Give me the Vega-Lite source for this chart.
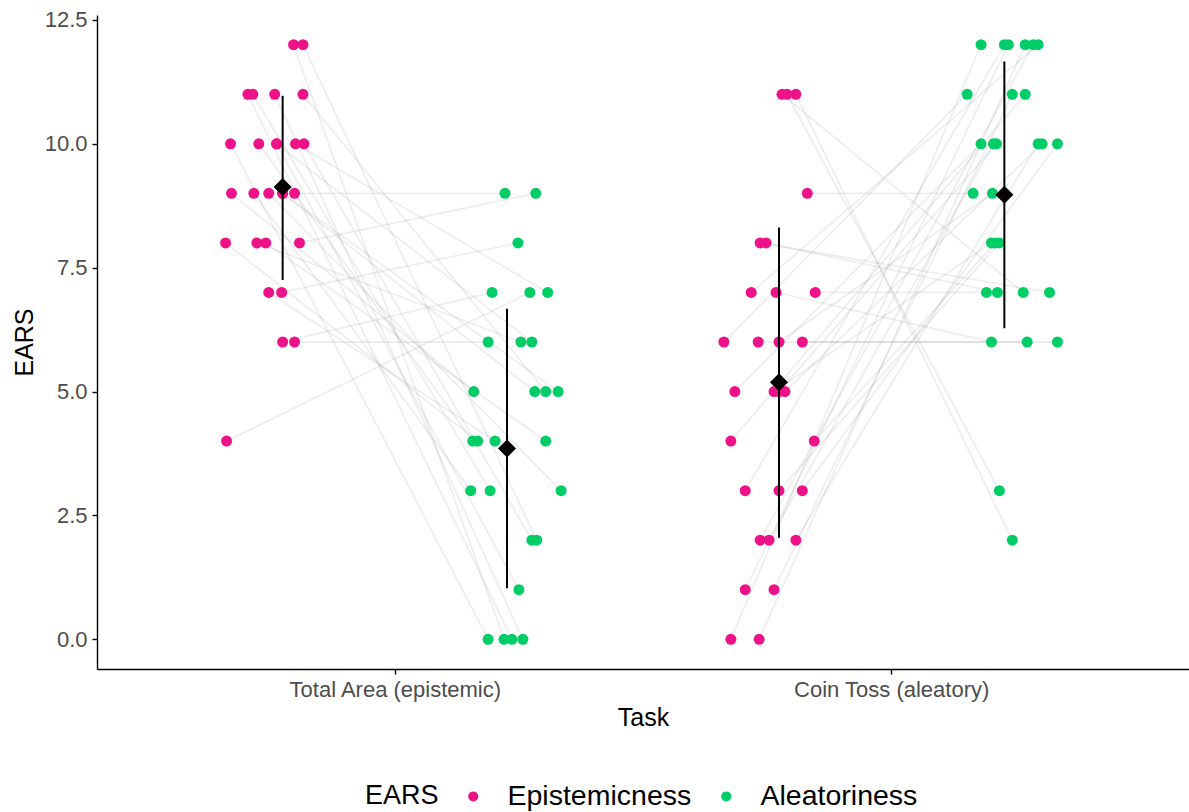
{
  "$schema": "https://vega.github.io/schema/vega-lite/v6.json",
  "width": 1092,
  "height": 654,
  "autosize": {"type": "none"},
  "padding": {"left": 97, "top": 15, "right": 0, "bottom": 143},
  "background": "white",
  "config": {
    "view": {"stroke": null},
    "font": "Liberation Sans",
    "axis": {"grid": false, "domainColor": "black", "domainWidth": 1.4, "tickColor": "black", "tickWidth": 1.4, "tickSize": 5, "labelColor": "#4d4d4d", "labelFontSize": 22, "labelLimit": 500, "titleFontSize": 25, "titleColor": "black", "titleFontWeight": "normal", "labelFont": "Liberation Sans", "titleFont": "Liberation Sans"}
  },
  "datasets": {
    "pts": [
      {"id": "T1", "ears": "Epistemicness", "x": 0.796, "v": 12}, {"id": "T1", "ears": "Aleatoriness", "x": 1.220, "v": 0},
      {"id": "T2", "ears": "Epistemicness", "x": 0.815, "v": 12}, {"id": "T2", "ears": "Aleatoriness", "x": 1.286, "v": 2},
      {"id": "T3", "ears": "Epistemicness", "x": 0.704, "v": 11}, {"id": "T3", "ears": "Aleatoriness", "x": 1.236, "v": 0},
      {"id": "T4", "ears": "Epistemicness", "x": 0.714, "v": 11}, {"id": "T4", "ears": "Aleatoriness", "x": 1.192, "v": 3},
      {"id": "T5", "ears": "Epistemicness", "x": 0.758, "v": 11}, {"id": "T5", "ears": "Aleatoriness", "x": 1.258, "v": 0},
      {"id": "T6", "ears": "Epistemicness", "x": 0.815, "v": 11}, {"id": "T6", "ears": "Aleatoriness", "x": 1.304, "v": 5},
      {"id": "T7", "ears": "Epistemicness", "x": 0.669, "v": 10}, {"id": "T7", "ears": "Aleatoriness", "x": 1.188, "v": 0},
      {"id": "T8", "ears": "Epistemicness", "x": 0.726, "v": 10}, {"id": "T8", "ears": "Aleatoriness", "x": 1.157, "v": 4},
      {"id": "T9", "ears": "Epistemicness", "x": 0.762, "v": 10}, {"id": "T9", "ears": "Aleatoriness", "x": 1.250, "v": 1},
      {"id": "T10", "ears": "Epistemicness", "x": 0.800, "v": 10}, {"id": "T10", "ears": "Aleatoriness", "x": 1.308, "v": 7},
      {"id": "T11", "ears": "Epistemicness", "x": 0.817, "v": 10}, {"id": "T11", "ears": "Aleatoriness", "x": 1.276, "v": 2},
      {"id": "T12", "ears": "Epistemicness", "x": 0.671, "v": 9}, {"id": "T12", "ears": "Aleatoriness", "x": 1.159, "v": 5},
      {"id": "T13", "ears": "Epistemicness", "x": 0.716, "v": 9}, {"id": "T13", "ears": "Aleatoriness", "x": 1.153, "v": 3},
      {"id": "T14", "ears": "Epistemicness", "x": 0.746, "v": 9}, {"id": "T14", "ears": "Aleatoriness", "x": 1.335, "v": 3},
      {"id": "T15", "ears": "Epistemicness", "x": 0.774, "v": 9}, {"id": "T15", "ears": "Aleatoriness", "x": 1.282, "v": 5},
      {"id": "T16", "ears": "Epistemicness", "x": 0.798, "v": 9}, {"id": "T16", "ears": "Aleatoriness", "x": 1.222, "v": 9},
      {"id": "T17", "ears": "Epistemicness", "x": 0.659, "v": 8}, {"id": "T17", "ears": "Aleatoriness", "x": 1.167, "v": 4},
      {"id": "T18", "ears": "Epistemicness", "x": 0.722, "v": 8}, {"id": "T18", "ears": "Aleatoriness", "x": 1.254, "v": 6},
      {"id": "T19", "ears": "Epistemicness", "x": 0.740, "v": 8}, {"id": "T19", "ears": "Aleatoriness", "x": 1.304, "v": 4},
      {"id": "T20", "ears": "Epistemicness", "x": 0.808, "v": 8}, {"id": "T20", "ears": "Aleatoriness", "x": 1.284, "v": 9},
      {"id": "T21", "ears": "Epistemicness", "x": 0.746, "v": 7}, {"id": "T21", "ears": "Aleatoriness", "x": 1.202, "v": 4},
      {"id": "T22", "ears": "Epistemicness", "x": 0.772, "v": 7}, {"id": "T22", "ears": "Aleatoriness", "x": 1.248, "v": 8},
      {"id": "T23", "ears": "Epistemicness", "x": 0.774, "v": 6}, {"id": "T23", "ears": "Aleatoriness", "x": 1.196, "v": 7},
      {"id": "T24", "ears": "Epistemicness", "x": 0.798, "v": 6}, {"id": "T24", "ears": "Aleatoriness", "x": 1.188, "v": 6},
      {"id": "T25", "ears": "Epistemicness", "x": 0.661, "v": 4}, {"id": "T25", "ears": "Aleatoriness", "x": 1.272, "v": 7},
      {"id": "T26", "ears": "Epistemicness", "x": 0.762, "v": 10}, {"id": "T26", "ears": "Aleatoriness", "x": 1.276, "v": 6},
      {"id": "T27", "ears": "Epistemicness", "x": 0.774, "v": 9}, {"id": "T27", "ears": "Aleatoriness", "x": 1.329, "v": 5},
      {"id": "C1", "ears": "Epistemicness", "x": 1.780, "v": 11}, {"id": "C1", "ears": "Aleatoriness", "x": 2.266, "v": 7},
      {"id": "C2", "ears": "Epistemicness", "x": 1.790, "v": 11}, {"id": "C2", "ears": "Aleatoriness", "x": 2.218, "v": 3},
      {"id": "C3", "ears": "Epistemicness", "x": 1.808, "v": 11}, {"id": "C3", "ears": "Aleatoriness", "x": 2.244, "v": 2},
      {"id": "C4", "ears": "Epistemicness", "x": 1.831, "v": 9}, {"id": "C4", "ears": "Aleatoriness", "x": 2.165, "v": 9},
      {"id": "C5", "ears": "Epistemicness", "x": 1.736, "v": 8}, {"id": "C5", "ears": "Aleatoriness", "x": 2.319, "v": 7},
      {"id": "C6", "ears": "Epistemicness", "x": 1.748, "v": 8}, {"id": "C6", "ears": "Aleatoriness", "x": 2.214, "v": 7},
      {"id": "C7", "ears": "Epistemicness", "x": 1.718, "v": 7}, {"id": "C7", "ears": "Aleatoriness", "x": 2.296, "v": 12},
      {"id": "C8", "ears": "Epistemicness", "x": 1.768, "v": 7}, {"id": "C8", "ears": "Aleatoriness", "x": 2.202, "v": 6},
      {"id": "C9", "ears": "Epistemicness", "x": 1.847, "v": 7}, {"id": "C9", "ears": "Aleatoriness", "x": 2.192, "v": 7},
      {"id": "C10", "ears": "Epistemicness", "x": 1.663, "v": 6}, {"id": "C10", "ears": "Aleatoriness", "x": 2.153, "v": 11},
      {"id": "C11", "ears": "Epistemicness", "x": 1.732, "v": 6}, {"id": "C11", "ears": "Aleatoriness", "x": 2.274, "v": 6},
      {"id": "C12", "ears": "Epistemicness", "x": 1.774, "v": 6}, {"id": "C12", "ears": "Aleatoriness", "x": 2.204, "v": 9},
      {"id": "C13", "ears": "Epistemicness", "x": 1.821, "v": 6}, {"id": "C13", "ears": "Aleatoriness", "x": 2.335, "v": 6},
      {"id": "C14", "ears": "Epistemicness", "x": 1.685, "v": 5}, {"id": "C14", "ears": "Aleatoriness", "x": 2.181, "v": 10},
      {"id": "C15", "ears": "Epistemicness", "x": 1.764, "v": 5}, {"id": "C15", "ears": "Aleatoriness", "x": 2.202, "v": 8},
      {"id": "C16", "ears": "Epistemicness", "x": 1.786, "v": 5}, {"id": "C16", "ears": "Aleatoriness", "x": 2.304, "v": 10},
      {"id": "C17", "ears": "Epistemicness", "x": 1.677, "v": 4}, {"id": "C17", "ears": "Aleatoriness", "x": 2.270, "v": 11},
      {"id": "C18", "ears": "Epistemicness", "x": 1.845, "v": 4}, {"id": "C18", "ears": "Aleatoriness", "x": 2.210, "v": 8},
      {"id": "C19", "ears": "Epistemicness", "x": 1.706, "v": 3}, {"id": "C19", "ears": "Aleatoriness", "x": 2.228, "v": 12},
      {"id": "C20", "ears": "Epistemicness", "x": 1.774, "v": 3}, {"id": "C20", "ears": "Aleatoriness", "x": 2.218, "v": 8},
      {"id": "C21", "ears": "Epistemicness", "x": 1.821, "v": 3}, {"id": "C21", "ears": "Aleatoriness", "x": 2.335, "v": 10},
      {"id": "C22", "ears": "Epistemicness", "x": 1.736, "v": 2}, {"id": "C22", "ears": "Aleatoriness", "x": 2.286, "v": 12},
      {"id": "C23", "ears": "Epistemicness", "x": 1.754, "v": 2}, {"id": "C23", "ears": "Aleatoriness", "x": 2.206, "v": 10},
      {"id": "C24", "ears": "Epistemicness", "x": 1.808, "v": 2}, {"id": "C24", "ears": "Aleatoriness", "x": 2.296, "v": 10},
      {"id": "C25", "ears": "Epistemicness", "x": 1.706, "v": 1}, {"id": "C25", "ears": "Aleatoriness", "x": 2.236, "v": 12},
      {"id": "C26", "ears": "Epistemicness", "x": 1.764, "v": 1}, {"id": "C26", "ears": "Aleatoriness", "x": 2.244, "v": 11},
      {"id": "C27", "ears": "Epistemicness", "x": 1.677, "v": 0}, {"id": "C27", "ears": "Aleatoriness", "x": 2.181, "v": 12},
      {"id": "C28", "ears": "Epistemicness", "x": 1.734, "v": 0}, {"id": "C28", "ears": "Aleatoriness", "x": 2.270, "v": 12},
      {"id": "C29", "ears": "Epistemicness", "x": 1.774, "v": 5}, {"id": "C29", "ears": "Aleatoriness", "x": 2.212, "v": 10}
    ],
    "summ": [
      {"task": "Total Area (epistemic)", "ears": "Epistemicness", "x": 0.774, "mean": 9.13, "lo": 7.25, "hi": 10.97},
      {"task": "Total Area (epistemic)", "ears": "Aleatoriness", "x": 1.226, "mean": 3.85, "lo": 1.03, "hi": 6.67},
      {"task": "Coin Toss (aleatory)", "ears": "Epistemicness", "x": 1.774, "mean": 5.19, "lo": 2.05, "hi": 8.31},
      {"task": "Coin Toss (aleatory)", "ears": "Aleatoriness", "x": 2.228, "mean": 8.97, "lo": 6.28, "hi": 11.66}
    ]
  },
  "layer": [
    {
      "data": {"name": "pts"},
      "mark": {"type": "line", "color": "#8a8a8a", "opacity": 0.15, "strokeWidth": 1.8},
      "encoding": {
        "x": {"field": "x", "type": "quantitative", "scale": {"domain": [0.4, 2.6], "nice": false, "zero": false},
          "axis": {"values": [1, 2], "labelExpr": "datum.value == 1 ? 'Total Area (epistemic)' : 'Coin Toss (aleatory)'", "title": "Task", "labelPadding": 5, "titlePadding": 5, "labelLimit": 500}},
        "y": {"field": "v", "type": "quantitative", "scale": {"domain": [-0.6, 12.6], "nice": false, "zero": false},
          "axis": {"values": [0, 2.5, 5, 7.5, 10, 12.5], "format": ".1f", "title": "EARS", "labelPadding": 5, "titlePadding": 7}},
        "detail": {"field": "id"}
      }
    },
    {
      "data": {"name": "pts"},
      "mark": {"type": "point", "filled": true, "opacity": 1, "size": 121, "shape": "circle"},
      "encoding": {
        "x": {"field": "x", "type": "quantitative"},
        "y": {"field": "v", "type": "quantitative"},
        "color": {"field": "ears", "type": "nominal",
          "scale": {"domain": ["Epistemicness", "Aleatoriness"], "range": ["#EE1289", "#00CD66"]},
          "legend": {"title": "EARS", "orient": "none", "legendX": 268, "legendY": 767, "direction": "horizontal", "titleOrient": "left",
            "titleFontSize": 27, "labelFontSize": 28.5, "titleFontWeight": "normal", "titleColor": "black", "labelColor": "black", "labelLimit": 600,
            "symbolSize": 100, "symbolType": "circle", "titlePadding": 20, "labelOffset": 20, "columnPadding": 20, "titleBaseline": "middle", "labelFont": "Liberation Sans", "titleFont": "Liberation Sans"}}
      }
    },
    {
      "data": {"name": "summ"},
      "mark": {"type": "rule", "color": "black", "strokeWidth": 2},
      "encoding": {
        "x": {"field": "x", "type": "quantitative"},
        "y": {"field": "lo", "type": "quantitative"},
        "y2": {"field": "hi"}
      }
    },
    {
      "data": {"name": "summ"},
      "mark": {"type": "point", "shape": "diamond", "filled": true, "color": "black", "opacity": 1, "size": 324},
      "encoding": {
        "x": {"field": "x", "type": "quantitative"},
        "y": {"field": "mean", "type": "quantitative"}
      }
    }
  ]
}
